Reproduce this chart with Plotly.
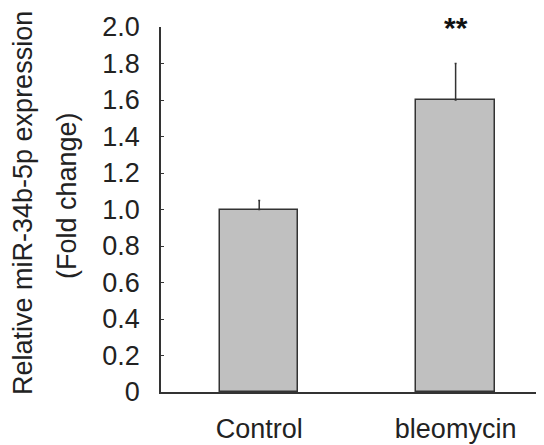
import plotly.graph_objects as go

categories = ["Control", "bleomycin"]
values = [1.0, 1.6]
errors = [0.05, 0.2]
significance = ["", "**"]
ytick_vals = [0, 0.2, 0.4, 0.6, 0.8, 1.0, 1.2, 1.4, 1.6, 1.8, 2.0]
ytick_text = ["0", "0.2", "0.4", "0.6", "0.8", "1.0", "1.2", "1.4", "1.6", "1.8", "2.0"]
ytitle_lines = ["Relative miR-34b-5p expression", "(Fold change)"]

FONT = "Arial, Liberation Sans, sans-serif"
W, H = 544, 445
# the page adds an 8px body margin, so the figure is offset by 8px
ML, MR, MT, MB = 153, 8, 19, 61
pw = W - ML - MR
ph = H - MT - MB

fig = go.Figure()
fig.add_trace(go.Bar(
    x=list(range(len(categories))),
    y=values,
    width=0.4,
    marker=dict(color="#c0c0c0", line=dict(color="#333333", width=1.5)),
    error_y=dict(type="data", array=errors, arrayminus=[0] * len(errors),
                 symmetric=False, color="#333333", thickness=1.5, width=1),
    showlegend=False,
))

annotations = []
for i, s in enumerate(significance):
    if s:
        annotations.append(dict(x=i, y=values[i] + errors[i], xref="x", yref="y",
                                yshift=36, yanchor="middle",
                                text="<b>" + s + "</b>", showarrow=False,
                                font=dict(family=FONT, size=30, color="#111111")))

for px, py, line in [(15, 195, ytitle_lines[0]), (59, 188, ytitle_lines[1])]:
    annotations.append(dict(x=(px - ML) / pw, y=(H - MB - py) / ph, xref="paper", yref="paper",
                            text=line, textangle=-90, showarrow=False,
                            xanchor="center", yanchor="middle",
                            font=dict(family=FONT, size=27, color="#222222")))

fig.update_layout(
    width=W, height=H,
    margin=dict(l=ML, r=MR, t=MT, b=MB, pad=0, autoexpand=False),
    plot_bgcolor="white", paper_bgcolor="white",
    font=dict(family=FONT, color="#222222"),
    bargap=0,
    annotations=annotations,
    xaxis=dict(range=[-0.5, 1.45], tickvals=list(range(len(categories))), ticktext=categories,
               showline=True, linecolor="#333333", linewidth=1.5, showgrid=False, zeroline=False,
               ticks="", tickfont=dict(family=FONT, size=27, color="#222222"),
               ticklabelstandoff=12, fixedrange=True, automargin=False),
    yaxis=dict(range=[0, 2.0], tickvals=ytick_vals, ticktext=ytick_text,
               showline=True, linecolor="#333333", linewidth=1.5, showgrid=False, zeroline=False,
               ticks="inside", ticklen=3, tickwidth=1, tickcolor="#333333",
               tickfont=dict(family=FONT, size=27, color="#222222"),
               ticklabelstandoff=14, fixedrange=True, automargin=False),
)

fig.write_html("out.html")
